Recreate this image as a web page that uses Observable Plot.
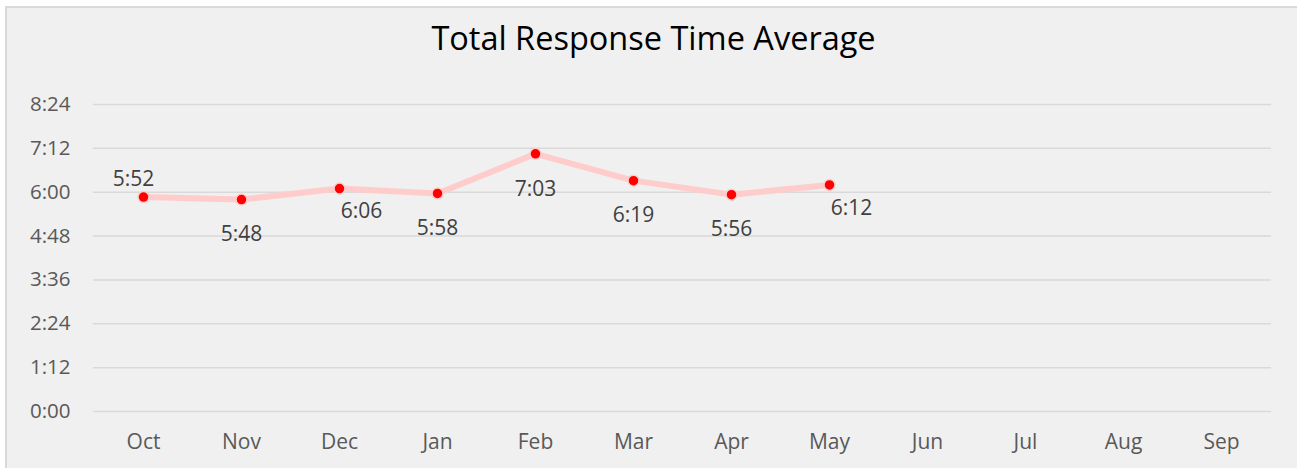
<!DOCTYPE html>
<html>
<head>
<meta charset="utf-8">
<script src="https://cdn.jsdelivr.net/npm/d3@7"></script>
<script src="https://cdn.jsdelivr.net/npm/@observablehq/plot@0.6"></script>
<style>
  html, body { margin: 0; padding: 0; background: #ffffff; overflow: hidden; }
  #frame {
    position: absolute; left: 5px; top: 6px; width: 1300px; height: 470px;
    background: #f0f0f0; border-left: 2px solid #d9d9d9; border-top: 2px solid #d9d9d9;
  }
  #title {
    position: absolute; left: 5px; top: 16px; width: 1297px; text-align: center;
    font-family: "Open Sans", sans-serif; font-size: 32.5px; color: #000;
    line-height: 44px;
  }
  #chart { position: absolute; left: 0; top: 75px; }
  #chart svg { background: transparent; }
</style>
</head>
<body>
<div id="frame"></div>
<div id="title">Total Response Time Average</div>
<div id="chart"></div>
<script>
const months = ["Oct", "Nov", "Dec", "Jan", "Feb", "Mar", "Apr", "May", "Jun", "Jul", "Aug", "Sep"];
const dataMonths = ["Oct", "Nov", "Dec", "Jan", "Feb", "Mar", "Apr", "May"];
const seconds = [352, 348, 366, 358, 423, 379, 356, 372];
const valueLabels = ["5:52", "5:48", "6:06", "5:58", "7:03", "6:19", "5:56", "6:12"];
const yTickValues = [0, 72, 144, 216, 288, 360, 432, 504];
const yTickLabels = ["0:00", "1:12", "2:24", "3:36", "4:48", "6:00", "7:12", "8:24"];

const data = dataMonths.map((m, i) => ({month: m, value: seconds[i], label: valueLabels[i]}));
const aboveSet = new Set(["Oct"]);
const rightSet = new Set(["Dec", "May"]);
const above = data.filter(d => aboveSet.has(d.month));
const right = data.filter(d => rightSet.has(d.month));
const below = data.filter(d => !aboveSet.has(d.month) && !rightSet.has(d.month));

const font = "'Open Sans', sans-serif";

const chart = Plot.plot({
  width: 1297,
  height: 393,
  marginLeft: 93,
  marginRight: 26,
  marginTop: 29,
  marginBottom: 57,
  style: {fontFamily: font, background: "transparent", overflow: "visible"},
  x: {type: "point", domain: months, padding: 0.5, label: null},
  y: {domain: [0, 504], label: null},
  marks: [
    Plot.ruleY(yTickValues, {stroke: "#d9d9d9", strokeWidth: 1.5}),
    Plot.axisY({
      ticks: yTickValues,
      tickFormat: (d) => yTickLabels[yTickValues.indexOf(d)],
      tickSize: 0, tickPadding: 23, fontSize: 20.5, fill: "#595959", label: null
    }),
    Plot.axisX({
      ticks: months, tickSize: 0, tickPadding: 23, fontSize: 21, fill: "#595959", label: null
    }),
    Plot.line(data, {x: "month", y: "value", stroke: "#ffcccc", strokeWidth: 6, strokeLinecap: "round", strokeLinejoin: "round"}),
    Plot.dot(data, {x: "month", y: "value", r: 5.5, fill: "#ff0000", stroke: "#ffcccc", strokeWidth: 1.5}),
    Plot.text(above, {x: "month", y: "value", text: "label", dx: -10, dy: -18, fontSize: 21, fill: "#404040"}),
    Plot.text(below, {x: "month", y: "value", text: "label", dx: 0, dy: 35, fontSize: 21, fill: "#404040"}),
    Plot.text(right, {x: "month", y: "value", text: "label", dx: 22, dy: 23, fontSize: 21, fill: "#404040"})
  ]
});
document.getElementById("chart").appendChild(chart);
</script>
</body>
</html>
